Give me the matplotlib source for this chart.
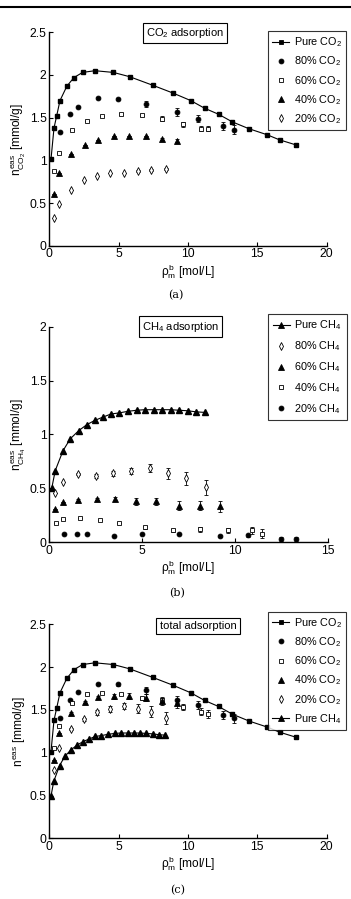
import matplotlib
matplotlib.use("Agg")
import matplotlib.pyplot as plt
from matplotlib.lines import Line2D

plt.rcParams['font.family'] = ['Liberation Sans', 'DejaVu Sans']
plt.rcParams['mathtext.fontset'] = 'custom'
plt.rcParams['mathtext.rm'] = 'Liberation Sans'
plt.rcParams['mathtext.it'] = 'Liberation Sans'
plt.rcParams['mathtext.bf'] = 'Liberation Sans:bold'

# ---------------- data ----------------
# Pure components
x_pure_co2 = [0.12, 0.34, 0.53, 0.77, 1.27, 1.78, 2.40, 3.29, 4.62, 5.79, 7.45, 8.89,
              10.2, 11.2, 12.2, 13.2, 14.4, 15.7, 16.6, 17.8]
y_pure_co2 = [1.01, 1.38, 1.52, 1.70, 1.87, 1.97, 2.03, 2.05, 2.03, 1.98, 1.88, 1.79,
              1.70, 1.61, 1.54, 1.45, 1.37, 1.30, 1.24, 1.18]
e_pure_co2 = [0, 0, 0, 0, 0, 0, 0, 0, 0, 0.01, 0, 0, 0, 0, 0, 0.02, 0, 0, 0.01, 0.02]

x_pure_ch4 = [0.13, 0.32, 0.74, 1.13, 1.58, 2.01, 2.44, 2.87, 3.32, 3.75, 4.24, 4.71,
              5.14, 5.64, 6.09, 6.54, 7.00, 7.46, 7.92, 8.37]
y_pure_ch4 = [0.50, 0.665, 0.85, 0.96, 1.035, 1.09, 1.13, 1.16, 1.19, 1.20, 1.215, 1.225,
              1.23, 1.23, 1.23, 1.23, 1.225, 1.22, 1.21, 1.205]

# mixture bulk densities (same for both components)
x_m80 = [0.79, 1.47, 2.04, 3.51, 4.98, 7.00, 9.20, 10.70, 12.50, 13.30]          # 80% CO2 / 20% CH4
x_m60 = [0.35, 0.73, 1.66, 2.73, 3.78, 5.18, 6.65, 8.12, 9.62, 10.92, 11.47]   # 60% CO2 / 40% CH4
x_m40 = [0.31, 0.73, 1.55, 2.58, 3.53, 4.66, 5.76, 6.97, 8.13, 9.18]           # 40% CO2 / 60% CH4
x_m20 = [0.31, 0.73, 1.55, 2.49, 3.45, 4.38, 5.40, 6.40, 7.36, 8.43]           # 20% CO2 / 80% CH4

# (a) CO2 adsorption
a_co2_80 = [1.33, 1.54, 1.63, 1.73, 1.72, 1.66, 1.57, 1.49, 1.40, 1.36]
a_co2_80_err = [0.005, 0.005, 0.005, 0.01, 0.015, 0.035, 0.045, 0.045, 0.05, 0.055]
a_co2_60 = [0.875, 1.09, 1.35, 1.465, 1.52, 1.54, 1.53, 1.49, 1.42, 1.37, 1.37]
a_co2_60_err = [0, 0, 0, 0, 0, 0.01, 0.015, 0.025, 0.03, 0.03, 0.03]
a_co2_40 = [0.60, 0.85, 1.07, 1.18, 1.24, 1.28, 1.28, 1.285, 1.25, 1.23]
a_co2_40_err = [0, 0, 0, 0, 0, 0, 0, 0, 0.01, 0.015]
a_co2_20 = [0.33, 0.49, 0.65, 0.77, 0.82, 0.85, 0.85, 0.875, 0.89, 0.90]
a_co2_20_err = [0, 0, 0, 0, 0, 0, 0, 0.01, 0.01, 0.01]

# (b) CH4 adsorption
b_ch4_80 = [0.46, 0.56, 0.63, 0.615, 0.64, 0.66, 0.69, 0.64, 0.595, 0.51]
b_ch4_80_err = [0, 0, 0.01, 0.015, 0.025, 0.03, 0.04, 0.05, 0.06, 0.07]
b_ch4_60 = [0.31, 0.37, 0.39, 0.40, 0.40, 0.38, 0.38, 0.34, 0.34, 0.335]
b_ch4_60_err = [0, 0, 0.01, 0.01, 0.02, 0.03, 0.035, 0.04, 0.045, 0.05]
b_ch4_40 = [0.18, 0.215, 0.225, 0.21, 0.18, 0.14, 0.11, 0.12, 0.11, 0.11, 0.08]
b_ch4_40_err = [0, 0, 0, 0, 0, 0.015, 0.015, 0.02, 0.025, 0.035, 0.04]
b_ch4_20 = [0.077, 0.077, 0.077, 0.06, 0.077, 0.075, 0.06, 0.065, 0.03, 0.03]
b_ch4_20_err = [0, 0, 0, 0, 0, 0, 0.01, 0.015, 0.015, 0.015]

# (c) total adsorption
c_tot_80 = [1.41, 1.62, 1.71, 1.80, 1.80, 1.73, 1.62, 1.56, 1.44, 1.40]
c_tot_80_err = [0.005, 0.005, 0.005, 0.01, 0.015, 0.04, 0.045, 0.045, 0.05, 0.055]
c_tot_60 = [1.055, 1.31, 1.575, 1.68, 1.70, 1.685, 1.635, 1.61, 1.535, 1.48, 1.455]
c_tot_60_err = [0, 0, 0, 0, 0, 0.015, 0.02, 0.03, 0.035, 0.04, 0.045]
c_tot_40 = [0.915, 1.225, 1.465, 1.59, 1.645, 1.66, 1.66, 1.64, 1.60, 1.575]
c_tot_40_err = [0, 0, 0.01, 0.01, 0.02, 0.03, 0.035, 0.04, 0.045, 0.05]
c_tot_20 = [0.795, 1.055, 1.28, 1.39, 1.47, 1.51, 1.545, 1.515, 1.48, 1.41]
c_tot_20_err = [0, 0, 0.01, 0.015, 0.025, 0.03, 0.04, 0.05, 0.06, 0.07]

# ---------------- figure ----------------
W, H = 351, 899
fig = plt.figure(figsize=(W / 100, H / 100), dpi=100)

FS_TICK = 8.8
FS_LAB = 8.6
FS_LEG = 7.8


def add_ax(l, r, t, b):
    return fig.add_axes([l / W, 1 - b / H, (r - l) / W, (b - t) / H])


def style(ax, xmax, ymax, yticks, xticks):
    ax.set_xlim(0, xmax)
    ax.set_ylim(0, ymax)
    ax.set_xticks(xticks)
    ax.set_yticks(yticks)
    ax.set_xticklabels([('%g' % v) for v in xticks])
    ax.set_yticklabels([('%g' % v) for v in yticks])
    for s in ['top', 'right']:
        ax.spines[s].set_visible(False)
    for s in ['left', 'bottom']:
        ax.spines[s].set_linewidth(1.0)
    ax.tick_params(direction='in', length=3, width=0.8, labelsize=FS_TICK, pad=2,
                   colors='black')
    ax.set_xlabel(r'$\rho^{\rm b}_{\rm m}$ [mol/L]', fontsize=FS_LAB, labelpad=1)


mk = dict(color='black', linestyle='none', capsize=1.2, elinewidth=0.6, capthick=0.6)


def plot_line(ax, x, y, marker, ms, label, err=None):
    if err is not None:
        ax.errorbar(x, y, yerr=err, fmt='none', ecolor='black', elinewidth=0.6,
                    capsize=1.2, capthick=0.6)
    ax.plot(x, y, '-', color='black', lw=0.8, marker=marker, ms=ms,
            mfc='black', mec='black', label=label)


def plot_pts(ax, x, y, err, marker, ms, filled, label):
    ax.errorbar(x, y, yerr=err, fmt=marker, ms=ms,
                mfc='black' if filled else 'white', mec='black', mew=0.6,
                label=label, **mk)


def title_box(ax, text, xc, yc):
    fig.text(xc / W, 1 - yc / H, text, fontsize=8, ha='center', va='center',
             bbox=dict(boxstyle='square,pad=0.3', fc='white', ec='black', lw=0.8))


def legend(ax, handles, labels, x0, y0, spacing=0.5):
    leg = fig.legend(handles, labels, loc='upper left',
                     bbox_to_anchor=(x0 / W, 1 - y0 / H), bbox_transform=fig.transFigure,
                     fontsize=FS_LEG, frameon=True, fancybox=False, edgecolor='black',
                     numpoints=1, handlelength=1.6, handletextpad=0.4,
                     labelspacing=spacing, borderpad=0.4, borderaxespad=0)
    leg.get_frame().set_linewidth(0.8)
    return leg


def leg_handle(marker, ms, filled, line=False):
    return Line2D([], [], color='black', lw=0.8 if line else 0,
                  linestyle='-' if line else 'none', marker=marker, ms=ms,
                  mfc='black' if filled else 'white', mec='black', mew=0.6)


# top rule
fig.add_artist(Line2D([0, 1], [1 - 7.3 / H, 1 - 7.3 / H], color='black', lw=1.5,
                      transform=fig.transFigure))

# ---- (a)
ax = add_ax(49.3, 326.7, 32.3, 245.7)
plot_line(ax, x_pure_co2, y_pure_co2, 's', 3.5, 'Pure', e_pure_co2)
plot_pts(ax, x_m80, a_co2_80, a_co2_80_err, 'o', 3.5, True, '80')
plot_pts(ax, x_m60, a_co2_60, a_co2_60_err, 's', 3.2, False, '60')
plot_pts(ax, x_m40, a_co2_40, a_co2_40_err, '^', 4, True, '40')
plot_pts(ax, x_m20, a_co2_20, a_co2_20_err, 'd', 3.6, False, '20')
style(ax, 20, 2.5, [0, 0.5, 1, 1.5, 2, 2.5], [0, 5, 10, 15, 20])
ax.set_ylabel(r'$n^{\rm eas}_{\rm CO_2}$ [mmol/g]', fontsize=FS_LAB, labelpad=1)
title_box(ax, r'CO$_2$ adsorption', 185, 33)
legend(ax,
       [leg_handle('s', 3.5, True, True), leg_handle('o', 3.5, True),
        leg_handle('s', 3.2, False), leg_handle('^', 4, True), leg_handle('d', 3.6, False)],
       [r'Pure CO$_2$', r'80% CO$_2$', r'60% CO$_2$', r'40% CO$_2$', r'20% CO$_2$'],
       267.7, 31, 0.5)
fig.text(176 / W, 1 - 295 / H, '(a)', fontsize=8, family='DejaVu Serif',
         ha='center', va='center')

# ---- (b)
ax = add_ax(49.3, 327.7, 326.7, 542.3)
plot_line(ax, x_pure_ch4, y_pure_ch4, '^', 4, 'Pure')
plot_pts(ax, x_m20, b_ch4_80, b_ch4_80_err, 'd', 3.6, False, '80')
plot_pts(ax, x_m40, b_ch4_60, b_ch4_60_err, '^', 4, True, '60')
plot_pts(ax, x_m60, b_ch4_40, b_ch4_40_err, 's', 3.2, False, '40')
plot_pts(ax, x_m80, b_ch4_20, b_ch4_20_err, 'o', 3.5, True, '20')
style(ax, 15, 2, [0, 0.5, 1, 1.5, 2], [0, 5, 10, 15])
ax.set_ylabel(r'$n^{\rm eas}_{\rm CH_4}$ [mmol/g]', fontsize=FS_LAB, labelpad=1)
title_box(ax, r'CH$_4$ adsorption', 180.5, 326.5)
legend(ax,
       [leg_handle('^', 4, True, True), leg_handle('d', 3.6, False),
        leg_handle('^', 4, True), leg_handle('s', 3.2, False), leg_handle('o', 3.5, True)],
       [r'Pure CH$_4$', r'80% CH$_4$', r'60% CH$_4$', r'40% CH$_4$', r'20% CH$_4$'],
       268.3, 314.3, 0.65)
fig.text(177 / W, 1 - 593 / H, '(b)', fontsize=8, family='DejaVu Serif',
         ha='center', va='center')

# ---- (c)
ax = add_ax(49.3, 326.7, 624.3, 838.3)
plot_line(ax, x_pure_co2, y_pure_co2, 's', 3.5, 'PureCO2', e_pure_co2)
plot_pts(ax, x_m80, c_tot_80, c_tot_80_err, 'o', 3.5, True, '80')
plot_pts(ax, x_m60, c_tot_60, c_tot_60_err, 's', 3.2, False, '60')
plot_pts(ax, x_m40, c_tot_40, c_tot_40_err, '^', 4, True, '40')
plot_pts(ax, x_m20, c_tot_20, c_tot_20_err, 'd', 3.6, False, '20')
plot_line(ax, x_pure_ch4, y_pure_ch4, '^', 4, 'PureCH4')
style(ax, 20, 2.5, [0, 0.5, 1, 1.5, 2, 2.5], [0, 5, 10, 15, 20])
ax.set_ylabel(r'$n^{\rm eas}$ [mmol/g]', fontsize=FS_LAB, labelpad=1)
title_box(ax, 'total adsorption', 198, 626)
legend(ax,
       [leg_handle('s', 3.5, True, True), leg_handle('o', 3.5, True),
        leg_handle('s', 3.2, False), leg_handle('^', 4, True), leg_handle('d', 3.6, False),
        leg_handle('^', 4, True, True)],
       [r'Pure CO$_2$', r'80% CO$_2$', r'60% CO$_2$', r'40% CO$_2$', r'20% CO$_2$',
        r'Pure CH$_4$'],
       267.7, 611.7, 0.5)
fig.text(178 / W, 1 - 890 / H, '(c)', fontsize=8, family='DejaVu Serif',
         ha='center', va='center')

fig.savefig('out.png', dpi=100)
